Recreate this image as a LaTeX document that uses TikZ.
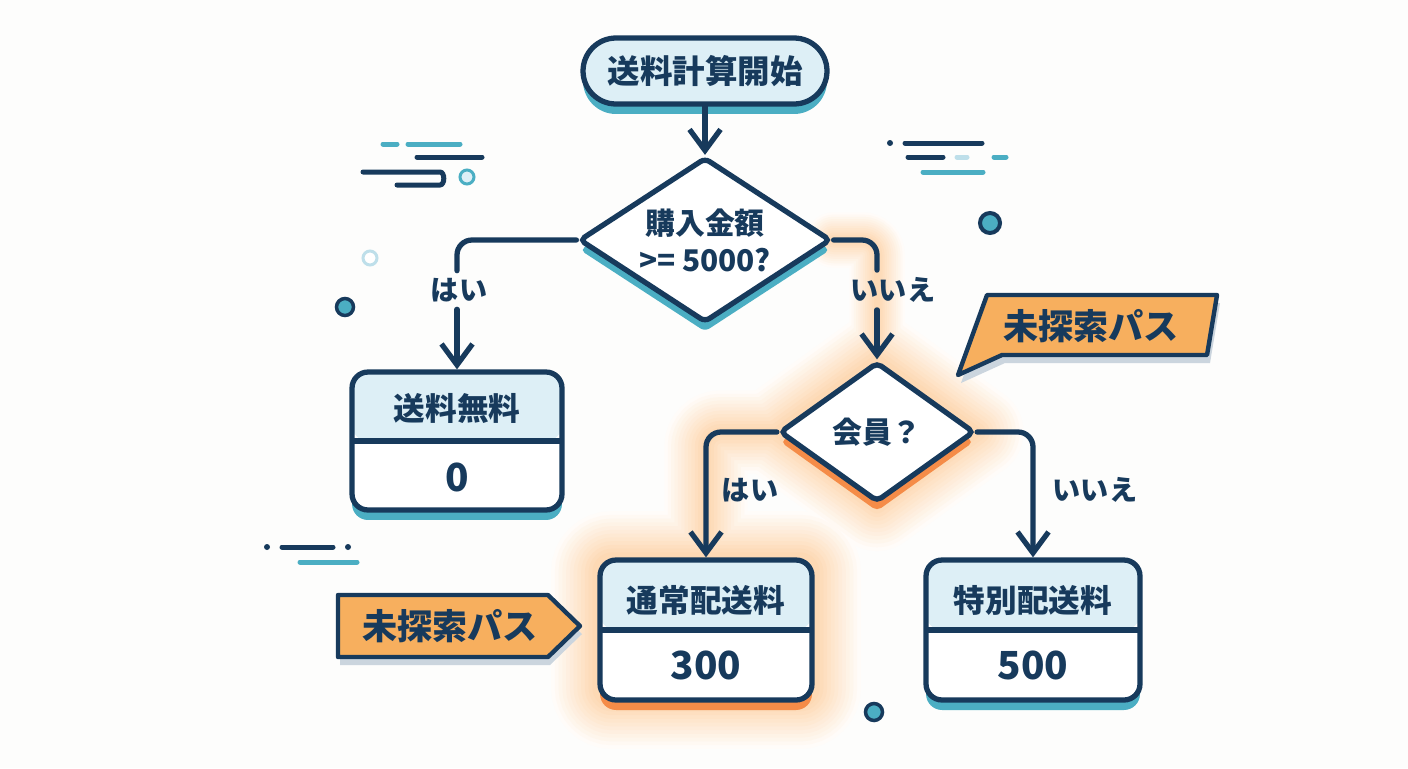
\documentclass[tikz,border=0pt]{standalone}
\usepackage{fontspec}
\setmainfont{Noto Sans CJK JP}
\usetikzlibrary{arrows.meta,shapes.geometric,shadows,backgrounds}
\definecolor{ink}{HTML}{173A5C}
\definecolor{sky}{HTML}{DDEFF6}
\definecolor{sea}{HTML}{4BAEC3}
\definecolor{peach}{HTML}{F7AF5E}
\definecolor{ember}{HTML}{F58C48}
\definecolor{haze}{HTML}{FBA54C}
\definecolor{mist}{HTML}{CBD5DE}
\definecolor{paper}{HTML}{FDFDFC}
\definecolor{pale}{HTML}{BEDFEA}
\tikzset{
	every node/.style={text=ink, font=\bfseries},
	seashadow/.style={drop shadow={shadow xshift=0pt, shadow yshift=-0.2cm, fill=sea, opacity=1}},
	embershadow/.style={drop shadow={shadow xshift=0pt, shadow yshift=-0.2cm, fill=ember, opacity=1}},
	begin/.style={draw=ink, line width=3pt, fill=sky, rounded corners=0.66cm, minimum width=4.88cm, minimum height=1.32cm, font=\fontsize{18.5}{22}\selectfont\bfseries},
	decide/.style={draw=ink, line width=3pt, fill=white, diamond, aspect=1.5, inner sep=0pt, rounded corners=3pt, align=center, font=\fontsize{17}{21}\selectfont\bfseries},
	card/.style={draw=ink, line width=3pt, fill=white, rounded corners=0.32cm,
		path picture={\fill[sky] (path picture bounding box.north west) rectangle (path picture bounding box.east);
			\draw[ink, line width=3pt] (path picture bounding box.west) -- (path picture bounding box.east);}},
	title/.style={font=\fontsize{18}{22}\selectfont\bfseries},
	sum/.style={font=\fontsize{22}{26}\selectfont\bfseries},
	tag/.style={font=\fontsize{16}{19}\selectfont\bfseries, inner sep=4pt},
	link/.style={draw=ink, line width=3pt, line cap=round, rounded corners=0.3cm},
	flow/.style={link, -{Straight Barb[length=0.42cm, width=0.62cm, line width=3pt]}},
	flag/.style={draw=ink, line width=2.5pt, fill=peach, line join=round},
	note/.style={font=\fontsize{20}{24}\selectfont\bfseries},
	streak/.style={line width=0.1cm, line cap=round}
}
\begin{document}
\begin{tikzpicture}[x=0.02cm, y=-0.02cm]
	\useasboundingbox (0,0) rectangle (1408,768);
	% nodes
	\node[begin, seashadow] (start) at (705,71) {送料計算開始};
	\node[decide, seashadow, minimum width=5.04cm, minimum height=3.3cm] (amount) at (705,240) {購入金額\\>= 5000?};
	\node[card, seashadow, minimum width=4.2cm, minimum height=2.76cm] (free) at (457,441) {};
	\node[title] (freeT) at (457,408) {送料無料};
	\node[sum] (freeV) at (457,477) {0};
	\node[decide, embershadow, minimum width=3.9cm, minimum height=2.8cm] (member) at (877,432) {会員？};
	\node[card, embershadow, minimum width=4.24cm, minimum height=2.8cm] (normal) at (706,630) {};
	\node[title] (normalT) at (706,600) {通常配送料};
	\node[sum] (normalV) at (706,665) {300};
	\node[card, seashadow, minimum width=4.28cm, minimum height=2.8cm] (special) at (1033,630) {};
	\node[title] (specialT) at (1033,600) {特別配送料};
	\node[sum] (specialV) at (1033,665) {500};
	% labels
	\node[tag] (yesA) at (459,290) {はい};
	\node[tag] (noA) at (893,290) {いいえ};
	\node[tag] (yesB) at (750,490) {はい};
	\node[tag] (noB) at (1095,490) {いいえ};
	% connectors
	\draw[flow] (start) -- (amount);
	\draw[link] (amount.west) -| (yesA.north -| free.north);
	\draw[flow] (yesA.south -| free.north) -- (free.north);
	\draw[link] (amount.east) -| (noA.north -| member.north);
	\draw[flow] (noA.south -| member.north) -- (member.north);
	\draw[flow] (member.west) -| (normal.north);
	\draw[flow] (member.east) -| (special.north);
	% callouts
	\fill[mist, shift={(3,8)}] (987,295) -- (1217,295) -- (1207,355) -- (1002,355) -- (958,375) -- cycle;
	\draw[flag] (987,295) -- (1217,295) -- (1207,355) -- (1002,355) -- (958,375) -- cycle;
	\node[note] (pathR) at (1091,326) {未探索パス};
	\fill[mist, shift={(2,8)}] (338,595) -- (548,595) -- (580,626) -- (548,657) -- (338,657) -- cycle;
	\draw[flag] (338,595) -- (548,595) -- (580,626) -- (548,657) -- (338,657) -- cycle;
	\node[note] (pathL) at (450,626) {未探索パス};
	% streaks and dots
	\draw[streak, sea] (383,144) -- (397,144);
	\draw[streak, sea] (408,144) -- (460,144);
	\draw[streak, ink] (417,157) -- (482,157);
	\draw[streak, ink] (363,172) -- (440,172) to[out=0, in=0] (440,185) -- (397,185);
	\fill[ink] (890,143) circle (0.06cm);
	\draw[streak, ink] (905,143) -- (982,143);
	\draw[streak, ink] (908,157) -- (943,157);
	\draw[streak, pale] (957,157) -- (967,157);
	\draw[streak, sea] (994,157) -- (1006,157);
	\draw[streak, sea] (923,172) -- (983,172);
	\fill[ink] (267,547) circle (0.06cm);
	\draw[streak, ink] (282,547) -- (333,547);
	\fill[ink] (348,547) circle (0.06cm);
	\draw[streak, sea] (300,562) -- (357,562);
	\draw[sea, line width=0.06cm, fill=sky] (467,177) circle (0.14cm);
	\draw[pale, line width=0.06cm, fill=white] (370,258) circle (0.14cm);
	\draw[ink, line width=0.07cm, fill=sea] (345,307) circle (0.17cm);
	\draw[ink, line width=0.08cm, fill=sea] (990,223) circle (0.2cm);
	\draw[ink, line width=0.07cm, fill=sea] (874,712) circle (0.17cm);
	% glow
	\begin{scope}[on background layer]
		\fill[paper] (0,0) rectangle (1408,768);
		\foreach \i in {1,...,12}{
			\pgfmathsetmacro{\w}{2.0-0.15*\i}
			\pgfmathsetmacro{\c}{3.5*\i}
			\draw[haze!\c, line width=\w cm, line join=round, line cap=round] (member.north) -- (member.east) -- (member.south) -- (member.west) -- cycle;
			\draw[haze!\c, line width=\w cm, rounded corners=0.3cm] (normal.south west) rectangle (normal.north east);
			\draw[haze!\c, line width=0.6*\w cm, line cap=round, rounded corners=0.3cm] (amount.east) -| (member.north);
			\draw[haze!\c, line width=0.9*\w cm, line cap=round, rounded corners=0.3cm] (member.west) -| (normal.north);
		}
	\end{scope}
\end{tikzpicture}
\end{document}
